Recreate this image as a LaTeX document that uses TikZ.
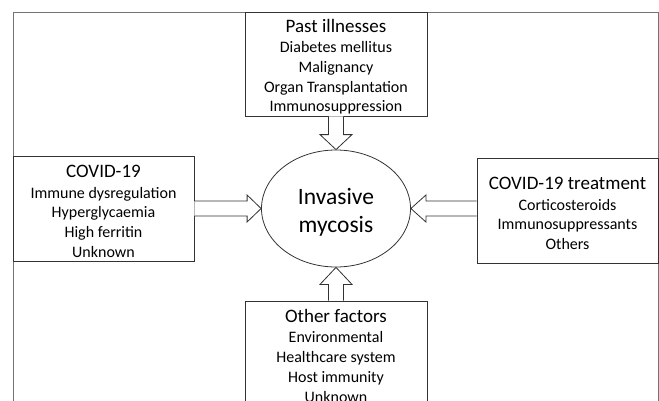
\documentclass[tikz,border=0pt]{standalone}
\usepackage{fontspec}
\setmainfont{Carlito}
\usetikzlibrary{shapes.geometric,calc}
\newcommand{\hdrline}[1]{{\fontsize{19}{21}\selectfont\rule{0pt}{18.5pt}#1}}
\begin{document}
\begin{tikzpicture}[x=1pt,y=-1pt,
  box/.style={draw=black!80, line width=0.8pt, rectangle, inner sep=0pt, align=center,
    font=\fontsize{16}{19.8}\selectfont},
  blk/.style={draw=black!80, line width=0.8pt, fill=white, line join=miter}]
\useasboundingbox (0,0) rectangle (659,400);
\begin{scope}
\clip (0,0) rectangle (659,400);
\draw[black!55, line width=0.8pt] (13,420) -- (13,12) -- (658,12) -- (658,420);
\node[box, minimum width=182pt, minimum height=104pt] (past) at (336,64)
  {\hdrline{Past illnesses}\\[0.5pt] Diabetes mellitus\\ Malignancy\\ Organ Transplantation\\ Immunosuppression};
\node[box, minimum width=181pt, minimum height=105pt] (cov) at (103.5,208.5)
  {\hdrline{COVID-19}\\[0.5pt] Immune dysregulation\\ Hyperglycaemia\\ High ferritin\\ Unknown};
\node[box, minimum width=181pt, minimum height=105pt] (trt) at (567.5,210.5)
  {\hdrline{COVID-19 treatment}\\[0.5pt] Corticosteroids\\ Immunosuppressants\\ Others};
\node[box, minimum width=182pt, minimum height=104pt] (oth) at (336,353)
  {\hdrline{Other factors}\\[0.5pt] Environmental\\ Healthcare system\\ Host immunity\\ Unknown};
\node[draw=black!80, line width=0.8pt, ellipse, inner sep=0pt, minimum width=149pt, minimum height=117pt,
  align=center, font=\fontsize{23.5}{27.5}\selectfont] (myc) at (336,208.5) {\rule{0pt}{24pt}Invasive\\ mycosis};
% top arrow
\draw[blk] ($(past.south)+(-7.5,0)$) -- ($(myc.north)+(-7.5,-15)$) -- ($(myc.north)+(-16,-15)$) -- (myc.north)
  -- ($(myc.north)+(16,-15)$) -- ($(myc.north)+(7.5,-15)$) -- ($(past.south)+(7.5,0)$);
% bottom arrow
\draw[blk] ($(oth.north)+(-7.5,0)$) -- ($(myc.south)+(-7.5,17)$) -- ($(myc.south)+(-16,17)$) -- (myc.south)
  -- ($(myc.south)+(16,17)$) -- ($(myc.south)+(7.5,17)$) -- ($(oth.north)+(7.5,0)$);
% left arrow
\coordinate (cl) at (cov.east |- myc.west);
\draw[blk] ($(cl)+(0,-7.5)$) -- ($(myc.west)+(-14,-7.5)$) -- ($(myc.west)+(-14,-13.5)$) -- (myc.west)
  -- ($(myc.west)+(-14,13.5)$) -- ($(myc.west)+(-14,7.5)$) -- ($(cl)+(0,7.5)$);
% right arrow
\coordinate (cr) at (trt.west |- myc.east);
\draw[blk] ($(cr)+(0,-7.5)$) -- ($(myc.east)+(15,-7.5)$) -- ($(myc.east)+(15,-13.5)$) -- (myc.east)
  -- ($(myc.east)+(15,13.5)$) -- ($(myc.east)+(15,7.5)$) -- ($(cr)+(0,7.5)$);
\end{scope}
\end{tikzpicture}
\end{document}
